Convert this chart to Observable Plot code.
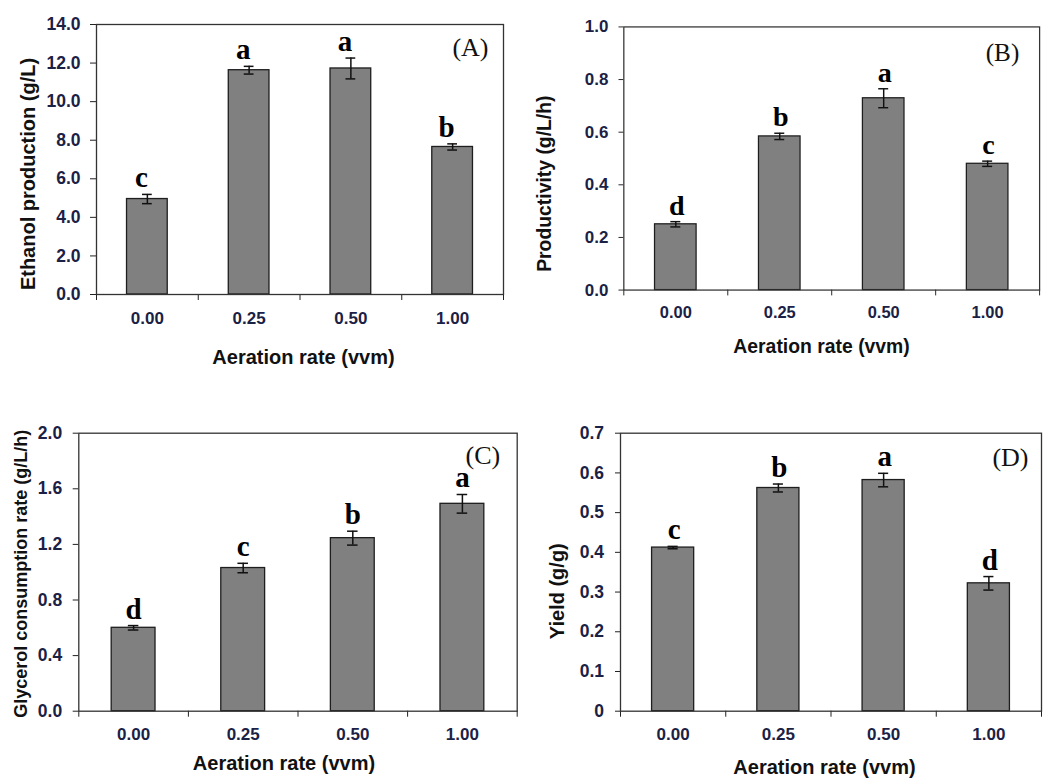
<!DOCTYPE html>
<html>
<head>
<meta charset="utf-8">
<script src="https://cdn.jsdelivr.net/npm/d3@7"></script>
<script src="https://cdn.jsdelivr.net/npm/@observablehq/plot@0.6"></script>
<style>
  html, body { margin: 0; padding: 0; background: #fff; overflow: hidden; }
  #root { position: relative; width: 1043px; height: 778px; overflow: hidden; background: #fff; }
  .panel { position: absolute; }
  .panel svg { overflow: visible; }
</style>
</head>
<body>
<div id="root"></div>
<script>
// ---------- data ----------
const categories = ["0.00", "0.25", "0.50", "1.00"];
const xTitle = "Aeration rate (vvm)";

const ethanol = [4.95, 11.63, 11.72, 7.65];
const ethanolErr = [0.24, 0.20, 0.54, 0.16];
const ethanolLetters = ["c", "a", "a", "b"];
const ethanolTicks = [0, 2, 4, 6, 8, 10, 12, 14];

const productivity = [0.25, 0.584, 0.729, 0.48];
const productivityErr = [0.01, 0.012, 0.036, 0.01];
const productivityLetters = ["d", "b", "a", "c"];
const productivityTicks = [0, 0.2, 0.4, 0.6, 0.8, 1.0];

const glycerol = [0.60, 1.03, 1.245, 1.492];
const glycerolErr = [0.016, 0.034, 0.05, 0.067];
const glycerolLetters = ["d", "c", "b", "a"];
const glycerolTicks = [0, 0.4, 0.8, 1.2, 1.6, 2.0];

const yieldVals = [0.412, 0.562, 0.582, 0.322];
const yieldErr = [0.003, 0.01, 0.017, 0.017];
const yieldLetters = ["c", "b", "a", "d"];
const yieldTicks = [0, 0.1, 0.2, 0.3, 0.4, 0.5, 0.6, 0.7];

const panelLabels = ["(A)", "(B)", "(C)", "(D)"];
const yTitles = ["Ethanol production (g/L)", "Productivity (g/L/h)", "Glycerol consumption rate (g/L/h)", "Yield (g/g)"];

// ---------- layout / style ----------
const fmt1 = d => d.toFixed(1);
const panels = [
  {values: ethanol, errors: ethanolErr, letters: ethanolLetters, ticks: ethanolTicks, fmt: fmt1,
   left: 0, top: 0, width: 520, height: 390, m: {top: 24, right: 17, bottom: 96, left: 96},
   yTickSize: 6, yTickPad: 10, yTitleSize: 20, yTitleDx: -68, yTitleDy: 14.5,
   xTitleDx: 3.5, xTitleDy: 63.5, letterDx: -6, labelDx: -15, labelDy: 13},
  {values: productivity, errors: productivityErr, letters: productivityLetters, ticks: productivityTicks, fmt: fmt1,
   left: 520, top: 0, width: 540, height: 390, m: {top: 27.3, right: 4, bottom: 91, left: 106.7},
   yTickSize: 5, yTickPad: 11, yTitleSize: 20, yTitleDx: -82, yTitleDy: 26,
   xTitleDx: -10.5, xTitleDy: 58.5, letterDx: 1, labelDx: -21, labelDy: 17},
  {values: glycerol, errors: glycerolErr, letters: glycerolLetters, ticks: glycerolTicks, fmt: fmt1,
   left: 0, top: 390, width: 520, height: 388, m: {top: 42.7, right: 3.3, bottom: 67.3, left: 78.3},
   yTickSize: 5.6, yTickPad: 11, yTitleSize: 18, yTitleDx: -58, yTitleDy: 1.5,
   xTitleDx: -14, xTitleDy: 52.6, letterDx: 0, labelDx: -17, labelDy: 12},
  {values: yieldVals, errors: yieldErr, letters: yieldLetters, ticks: yieldTicks, fmt: d => d === 0 ? "0" : d.toFixed(1),
   left: 520, top: 390, width: 523, height: 388, m: {top: 42.7, right: 2, bottom: 67.3, left: 100},
   yTickSize: 5, yTickPad: 11.5, yTitleSize: 20, yTitleDx: -62.5, yTitleDy: 19,
   xTitleDx: -6.5, xTitleDy: 56.3, letterDx: 1, labelDx: -13, labelDy: 14}
];

const sans = "Liberation Sans, Arial, sans-serif";
const serif = "Liberation Serif, Times New Roman, serif";
const tickInk = "#1b2145";
const root = document.getElementById("root");

panels.forEach((p, k) => {
  const data = categories.map((c, i) => ({
    cat: c, i, center: i + 0.5, value: p.values[i], err: p.errors[i], letter: p.letters[i]
  }));
  const boundaries = d3.range(categories.length + 1);
  const yMax = p.ticks[p.ticks.length - 1];

  const chart = Plot.plot({
    width: p.width,
    height: p.height,
    marginTop: p.m.top,
    marginRight: p.m.right,
    marginBottom: p.m.bottom,
    marginLeft: p.m.left,
    style: {background: "transparent", color: "#222", fontFamily: sans, fontSize: "16px", fontWeight: "bold"},
    x: {type: "linear", domain: [0, categories.length], ticks: boundaries, tickSize: 6, tickPadding: 0,
        tickFormat: () => "", label: null},
    y: {domain: [0, yMax], nice: false, ticks: p.ticks, tickFormat: () => "", tickSize: p.yTickSize,
        tickPadding: 0, label: null},
    marks: [
      Plot.rect(data, {x1: d => d.i + 0.3, x2: d => d.i + 0.7, y1: 0, y2: "value",
        fill: "#808080", stroke: "#1e1e1e", strokeWidth: 1.3}),
      Plot.ruleX(data, {x: "center", y1: d => d.value - d.err, y2: d => d.value + d.err,
        stroke: "#111", strokeWidth: 1.5}),
      Plot.ruleY(data, {y: d => d.value + d.err, x1: d => d.center - 0.048, x2: d => d.center + 0.048,
        stroke: "#111", strokeWidth: 1.5}),
      Plot.ruleY(data, {y: d => d.value - d.err, x1: d => d.center - 0.048, x2: d => d.center + 0.048,
        stroke: "#111", strokeWidth: 1.5}),
      // y tick labels
      Plot.text(p.ticks, {y: d => d, text: d => p.fmt(d), frameAnchor: "left", textAnchor: "end",
        lineAnchor: "middle", dx: -(p.yTickSize + p.yTickPad), fontFamily: sans, fontWeight: "bold",
        fontSize: 17.5, fill: tickInk}),
      // significance letters
      Plot.text(data, {x: "center", y: d => d.value + d.err, text: "letter", lineAnchor: "bottom",
        dy: -7, dx: p.letterDx, fontFamily: serif, fontWeight: "bold", fontSize: 29, fill: "#000"}),
      // x category labels
      Plot.text(data, {x: "center", text: "cat", frameAnchor: "bottom", lineAnchor: "top", dy: 17,
        fontFamily: sans, fontWeight: "bold", fontSize: 17, fill: tickInk}),
      Plot.text([xTitle], {text: d => d, frameAnchor: "bottom", lineAnchor: "middle",
        dx: p.xTitleDx, dy: p.xTitleDy, fontFamily: sans, fontWeight: "bold", fontSize: 20, fill: "#111"}),
      Plot.text([yTitles[k]], {text: d => d, frameAnchor: "left", rotate: -90, lineAnchor: "middle",
        textAnchor: "middle", dx: p.yTitleDx, dy: p.yTitleDy, fontFamily: sans, fontWeight: "bold",
        fontSize: p.yTitleSize, fill: "#111"}),
      Plot.text([panelLabels[k]], {text: d => d, frameAnchor: "top-right", textAnchor: "end",
        lineAnchor: "top", dx: p.labelDx, dy: p.labelDy, fontFamily: serif, fontWeight: "normal",
        fontSize: 26, fill: "#111"}),
      Plot.frame({stroke: "#333", strokeWidth: 1.3})
    ]
  });
  const div = document.createElement("div");
  div.className = "panel";
  div.style.left = p.left + "px";
  div.style.top = p.top + "px";
  div.appendChild(chart);
  root.appendChild(div);
});
</script>
</body>
</html>
